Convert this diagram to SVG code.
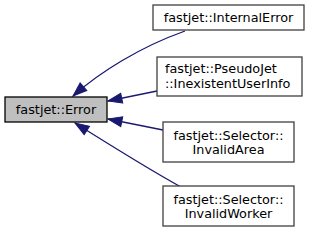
<svg xmlns="http://www.w3.org/2000/svg" width="309" height="234" viewBox="0 0 309 234">
<style>
.node rect{fill:#ffffff;stroke:#404040;stroke-width:1.3}
.node.cur rect{fill:#bfbfbf;stroke:#000000}
text{font-family:"DejaVu Sans",sans-serif;font-size:12.8px;fill:#000000}
.edge{fill:none;stroke:#191970;stroke-width:1.3}
</style>
<defs>
<marker id="ah" markerUnits="userSpaceOnUse" markerWidth="16" markerHeight="12" refX="14" refY="5" orient="auto" viewBox="-1 -1 16 12">
<path d="M0,0 L14,5 L0,10 z" fill="#191970" stroke="#191970" stroke-width="1"/>
</marker>
</defs>
<rect width="309" height="234" fill="#ffffff"/>
<g id="connectors">
<path class="edge" d="M185,31 C140,47 100,72 73,96" marker-end="url(#ah)"/>
<path class="edge" d="M157,91 L108,101" marker-end="url(#ah)"/>
<path class="edge" d="M163,130 L108,119" marker-end="url(#ah)"/>
<path class="edge" d="M181,187 C150,170 110,145 75,123" marker-end="url(#ah)"/>
</g>
<g id="node-error" class="node cur">
<rect x="5" y="97" width="102" height="25"/>
<text x="56" y="114" text-anchor="middle">fastjet::Error</text>
</g>
<g id="node-internalerror" class="node">
<rect x="153" y="5" width="151" height="25"/>
<text x="228.5" y="22" text-anchor="middle">fastjet::InternalError</text>
</g>
<g id="node-inexistentuserinfo" class="node">
<rect x="157" y="57" width="145" height="39"/>
<text x="165" y="73">fastjet::PseudoJet</text>
<text x="165" y="88">::InexistentUserInfo</text>
</g>
<g id="node-invalidarea" class="node">
<rect x="163" y="122" width="131" height="40"/>
<text x="228.5" y="140" text-anchor="middle">fastjet::Selector::</text>
<text x="228.5" y="154" text-anchor="middle">InvalidArea</text>
</g>
<g id="node-invalidworker" class="node">
<rect x="163" y="186" width="131" height="40"/>
<text x="228.5" y="204" text-anchor="middle">fastjet::Selector::</text>
<text x="228.5" y="218" text-anchor="middle">InvalidWorker</text>
</g>
</svg>
